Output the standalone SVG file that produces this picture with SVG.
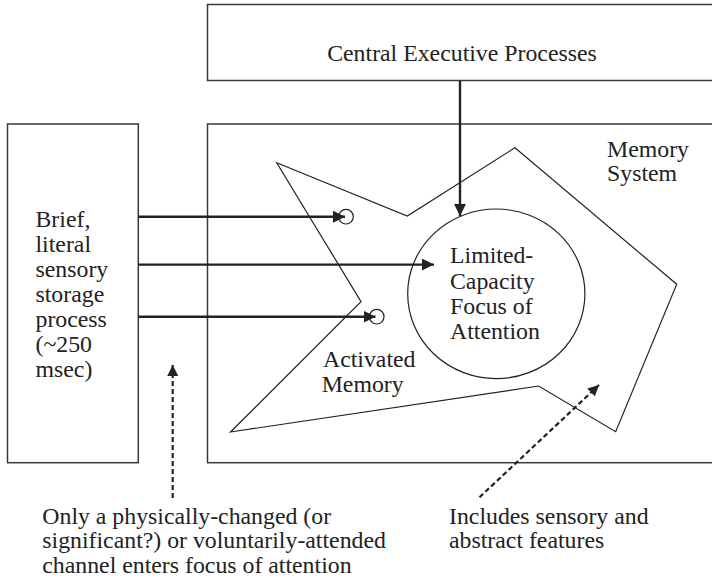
<svg xmlns="http://www.w3.org/2000/svg" width="712" height="579" viewBox="0 0 712 579">
<style>
  .box { fill: #fff; stroke: #3a3a3a; stroke-width: 1.5; }
  .thin { fill: none; stroke: #222; stroke-width: 1.2; }
  .arrow { fill: none; stroke: #222; stroke-width: 2.4; marker-end: url(#head); }
  .dash { fill: none; stroke: #222; stroke-width: 2.2; stroke-dasharray: 5 3; marker-end: url(#dhead); }
  text { font-family: "Liberation Serif", "Times New Roman", serif; font-size: 23.8px; fill: #222; }
</style>
<defs>
  <marker id="head" viewBox="0 0 12 12" refX="12" refY="6" markerWidth="12" markerHeight="12" markerUnits="userSpaceOnUse" orient="auto">
    <path d="M0,0 L12,6 L0,12 z" fill="#222"/>
  </marker>
  <marker id="dhead" viewBox="0 0 12 12" refX="12" refY="6" markerWidth="11" markerHeight="11" markerUnits="userSpaceOnUse" orient="auto">
    <path d="M0,0 L12,6 L0,12 z" fill="#222"/>
  </marker>
</defs>
<rect width="712" height="579" fill="#fff"/>

<g id="central-executive">
  <rect class="box" x="207.5" y="4.5" width="520" height="76"/>
  <text x="462" y="60.5" text-anchor="middle">Central Executive Processes</text>
</g>

<g id="memory-system">
  <rect class="box" x="207.5" y="124" width="520" height="338.7"/>
  <text x="607" y="157">Memory</text>
  <text x="607" y="180.5">System</text>
</g>

<g id="sensory-store">
  <rect class="box" x="7.5" y="124" width="130.8" height="338.7"/>
  <text x="35.5" y="226.7">Brief,</text>
  <text x="35.5" y="251.7">literal</text>
  <text x="35.5" y="276.7">sensory</text>
  <text x="35.5" y="301.7">storage</text>
  <text x="35.5" y="326.7">process</text>
  <text x="35.5" y="352">(~250</text>
  <text x="35.5" y="376.7">msec)</text>
</g>

<g id="activated-memory">
  <polygon class="thin" points="276.7,162.7 407.3,216 515,147.7 676.7,284.3 615.7,431.7 538.6,386 230.5,432 361,301.7"/>
  <text x="323" y="367.3">Activated</text>
  <text x="321.7" y="391.7">Memory</text>
</g>

<g id="focus-of-attention">
  <ellipse class="thin" cx="496.3" cy="293.8" rx="88.6" ry="84.8"/>
  <text x="450" y="263.3">Limited-</text>
  <text x="450" y="289">Capacity</text>
  <text x="450" y="313.6">Focus of</text>
  <text x="450" y="339">Attention</text>
</g>

<g id="activated-item-1">
  <circle class="thin" cx="346" cy="216.7" r="7.3"/>
</g>
<g id="activated-item-2">
  <circle class="thin" cx="376.7" cy="316.7" r="7.3"/>
</g>

<g id="note-channel">
  <text x="42.3" y="524">Only a physically-changed (or</text>
  <text x="42.3" y="548.3">significant?) or voluntarily-attended</text>
  <text x="42.3" y="572.7">channel enters focus of attention</text>
</g>

<g id="note-features">
  <text x="449" y="524">Includes sensory and</text>
  <text x="449" y="548.3">abstract features</text>
</g>

<g id="connectors">
  <line class="arrow" x1="460" y1="80.7" x2="460" y2="216"/>
  <line class="arrow" x1="138.3" y1="216.7" x2="345" y2="216.7"/>
  <line class="arrow" x1="138.3" y1="264.6" x2="434" y2="264.6"/>
  <line class="arrow" x1="138.3" y1="316.7" x2="375.5" y2="316.7"/>
  <line class="dash" x1="172.7" y1="498" x2="172.7" y2="365"/>
  <line class="dash" x1="479.5" y1="497.3" x2="599" y2="385"/>
</g>
</svg>
